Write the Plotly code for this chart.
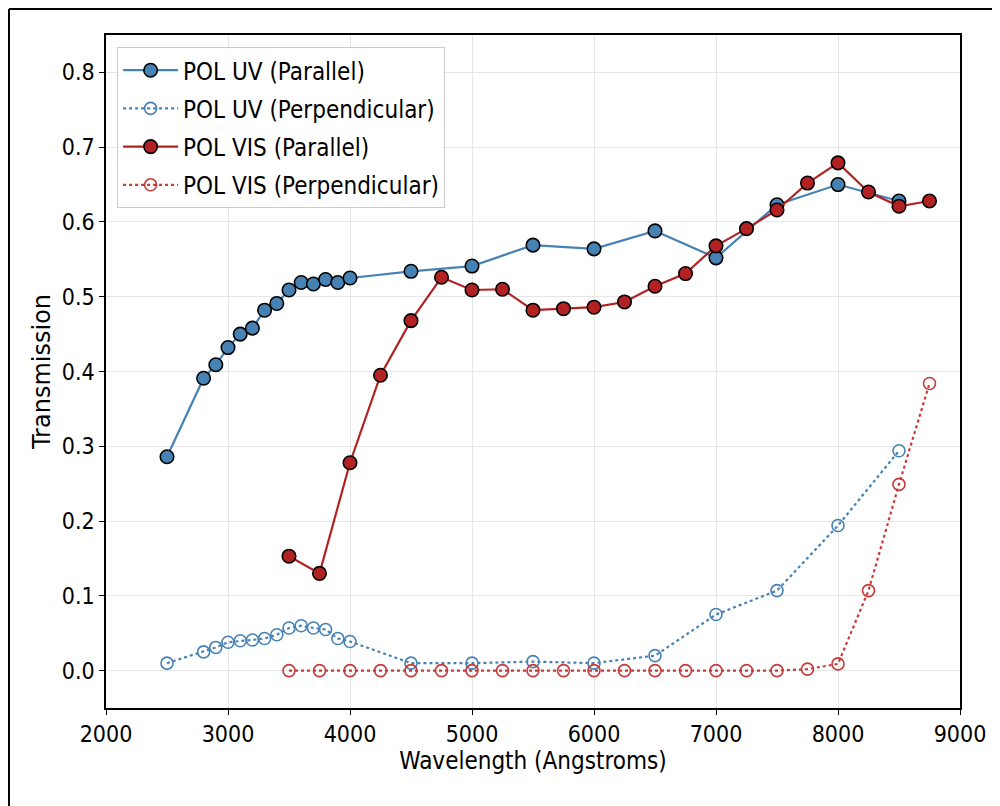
import plotly.graph_objects as go

uv_x = [2500, 2800, 2900, 3000, 3100, 3200, 3300, 3400, 3500, 3600, 3700, 3800, 3900, 4000,
        4500, 5000, 5500, 6000, 6500, 7000, 7500, 8000, 8500]
uv_par = [0.286, 0.391, 0.409, 0.432, 0.450, 0.458, 0.482, 0.491, 0.509, 0.519, 0.517, 0.523, 0.519, 0.525,
          0.534, 0.541, 0.569, 0.564, 0.588, 0.552, 0.623, 0.650, 0.628]
uv_perp = [0.010, 0.025, 0.031, 0.038, 0.040, 0.041, 0.043, 0.048, 0.057, 0.060, 0.057, 0.055, 0.043, 0.039,
           0.010, 0.010, 0.012, 0.010, 0.020, 0.075, 0.107, 0.194, 0.294]

vis_x = [3500, 3750, 4000, 4250, 4500, 4750, 5000, 5250, 5500, 5750, 6000, 6250, 6500, 6750,
         7000, 7250, 7500, 7750, 8000, 8250, 8500, 8750]
vis_par = [0.153, 0.130, 0.278, 0.395, 0.468, 0.526, 0.509, 0.510, 0.482, 0.484, 0.486, 0.493, 0.514, 0.531,
           0.568, 0.591, 0.616, 0.652, 0.679, 0.640, 0.621, 0.628]
vis_perp = [0.0, 0.0, 0.0, 0.0, 0.0, 0.0, 0.0, 0.0, 0.0, 0.0, 0.0, 0.0, 0.0, 0.0,
            0.0, 0.0, 0.0, 0.002, 0.009, 0.107, 0.249, 0.384]

BLUE = "#4682B4"
RED = "#B22222"
RED2 = "#C8393A"
FONT = "DejaVu Sans Condensed, DejaVu Sans"

fig = go.Figure()
fig.add_trace(go.Scatter(x=uv_x, y=uv_par, mode="lines+markers", name="POL UV (Parallel)",
                         legendgroup="a",
                         line=dict(color=BLUE, width=2.2),
                         marker=dict(size=13.5, color=BLUE, line=dict(color="black", width=1.6))))
fig.add_trace(go.Scatter(x=uv_x, y=uv_perp, mode="lines+markers", name="POL UV (Perpendicular)",
                         legendgroup="b",
                         line=dict(color=BLUE, width=2.2, dash="dot"),
                         marker=dict(size=12, color=BLUE, symbol="circle-open", line=dict(width=1.6))))
fig.add_trace(go.Scatter(x=vis_x, y=vis_par, mode="lines+markers", name="POL VIS (Parallel)",
                         legendgroup="c",
                         line=dict(color=RED, width=2.2),
                         marker=dict(size=13.5, color=RED, line=dict(color="black", width=1.6))))
fig.add_trace(go.Scatter(x=vis_x, y=vis_perp, mode="lines+markers", name="POL VIS (Perpendicular)",
                         legendgroup="d",
                         line=dict(color=RED2, width=2.2, dash="dot"),
                         marker=dict(size=12, color=RED2, symbol="circle-open", line=dict(width=1.6))))

axis_common = dict(showline=True, linecolor="black", linewidth=1.5, mirror=True,
                   ticks="outside", ticklen=5, tickcolor="black",
                   showgrid=True, gridcolor="#E6E6E6", gridwidth=1, zeroline=False,
                   tickfont=dict(family=FONT, size=23, color="black"))

fig.update_layout(
    width=1000, height=806,
    paper_bgcolor="white", plot_bgcolor="white",
    margin=dict(l=98, r=48, t=27, b=106),
    font=dict(family=FONT, color="black"),
    xaxis=dict(range=[2000, 9000], tickvals=[2000, 3000, 4000, 5000, 6000, 7000, 8000, 9000],
               title=dict(text="Wavelength (Angstroms)", font=dict(size=24), standoff=6),
               **axis_common),
    yaxis=dict(range=[-0.05, 0.85], tickvals=[0.0, 0.1, 0.2, 0.3, 0.4, 0.5, 0.6, 0.7, 0.8],
               tickformat=".1f",
               title=dict(text="Transmission", font=dict(size=24, family="DejaVu Sans"), standoff=4),
               **axis_common),
    legend=dict(x=0.013, y=0.982, xanchor="left", yanchor="top",
                bgcolor="rgba(255,255,255,0.9)", bordercolor="#CCCCCC", borderwidth=1,
                font=dict(size=24, family=FONT),
                traceorder="grouped", tracegroupgap=4, itemwidth=55),
    showlegend=True,
)

# outer figure frame (top and left edges visible in reference)
fig.add_shape(type="line", xref="paper", yref="paper", x0=-0.1136, x1=1.07, y0=1.0386, y1=1.0386,
              line=dict(color="black", width=2))
fig.add_shape(type="line", xref="paper", yref="paper", x0=-0.1136, x1=-0.1136, y0=1.0386, y1=-0.16,
              line=dict(color="black", width=2))

fig.write_html("out.html")
